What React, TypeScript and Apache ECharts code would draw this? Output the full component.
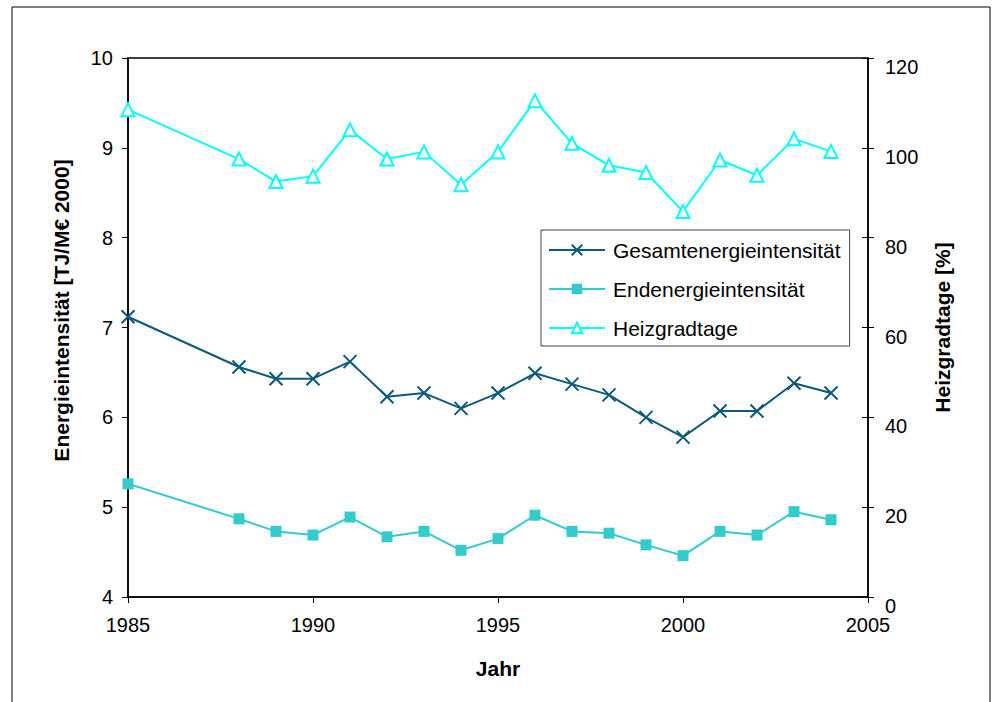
import React, { useEffect, useRef } from "react";
import * as echarts from "echarts";

const years = [1985, 1988, 1989, 1990, 1991, 1992, 1993, 1994, 1995, 1996, 1997, 1998, 1999, 2000, 2001, 2002, 2003, 2004];
const gesamt = [7.12, 6.56, 6.43, 6.43, 6.62, 6.23, 6.27, 6.1, 6.27, 6.49, 6.37, 6.25, 6.0, 5.78, 6.07, 6.07, 6.38, 6.27];
const enden = [5.26, 4.87, 4.73, 4.69, 4.89, 4.67, 4.73, 4.52, 4.65, 4.91, 4.73, 4.71, 4.58, 4.46, 4.73, 4.69, 4.95, 4.86];
const heizgradtage = [108.5, 97.5, 92.5, 93.7, 104, 97.5, 99.1, 91.8, 99.1, 110.5, 101, 96.1, 94.5, 85.8, 97.3, 93.9, 102, 99.2];
const seriesNames = ["Gesamtenergieintensität", "Endenergieintensität", "Heizgradtage"];

const FONT = "Liberation Sans, Arial, sans-serif";

export default function App() {
  const ref = useRef<HTMLDivElement>(null);
  useEffect(() => {
    document.body.style.margin = "0";
    const chart = echarts.init(ref.current!, null, { renderer: "svg" });
    const pair = (vals: number[]) => years.map((y, i) => [y, vals[i]]);
    const titleStyle = { fontFamily: FONT, fontSize: 21, fontWeight: "bold", color: "#000" };
    chart.setOption({
      animation: false,
      backgroundColor: "#ffffff",
      textStyle: { fontFamily: FONT },
      grid: { left: 128, right: 127, top: 58, bottom: 105, show: true, borderColor: "#000", borderWidth: 1.5, backgroundColor: "transparent" },
      graphic: [
        { type: "rect", shape: { x: 12, y: 7, width: 978, height: 720 }, style: { fill: "none", stroke: "#000", lineWidth: 1 }, silent: true },
      ],
      legend: {
        orient: "vertical",
        left: 541,
        top: 230,
        padding: [8, 9, 6, 7],
        itemGap: 15,
        itemWidth: 56,
        itemHeight: 13,
        borderColor: "#444",
        borderWidth: 1,
        textStyle: { fontFamily: FONT, fontSize: 21, lineHeight: 24, color: "#000", padding: [0, 0, 0, 3] },
        data: seriesNames,
      },
      xAxis: {
        type: "value",
        min: 1985,
        max: 2005,
        interval: 5,
        name: "Jahr",
        nameLocation: "middle",
        nameGap: 61,
        nameTextStyle: titleStyle,
        axisLine: { lineStyle: { color: "#000", width: 1.5 } },
        axisTick: { show: true, length: 6, lineStyle: { color: "#000" } },
        axisLabel: { fontFamily: FONT, fontSize: 20, color: "#000", margin: 18, formatter: (v: number) => String(v) },
        splitLine: { show: false },
      },
      yAxis: [
        {
          type: "value",
          min: 4,
          max: 10,
          interval: 1,
          position: "left",
          name: "Energieintensität [TJ/M€ 2000]",
          nameLocation: "middle",
          nameGap: 56,
          nameTextStyle: { ...titleStyle, padding: [0, 0, 0, 34] },
          axisLine: { show: true, lineStyle: { color: "#000", width: 1.5 } },
          axisTick: { show: true, length: 6, lineStyle: { color: "#000" } },
          axisLabel: { fontFamily: FONT, fontSize: 20, color: "#000", margin: 15 },
          splitLine: { show: false },
        },
        {
          type: "value",
          min: 0,
          max: 120,
          interval: 20,
          position: "right",
          name: "Heizgradtage [%]",
          nameLocation: "middle",
          nameGap: 64,
          nameRotate: 90,
          nameTextStyle: titleStyle,
          axisLine: { show: true, lineStyle: { color: "#000", width: 1.5 } },
          axisTick: { show: true, length: 6, lineStyle: { color: "#000" } },
          axisLabel: { fontFamily: FONT, fontSize: 20, color: "#000", margin: 17, verticalAlign: "top", lineHeight: 18 },
          splitLine: { show: false },
        },
        {
          type: "value",
          min: 0,
          max: 120,
          interval: 20,
          position: "right",
          axisLine: { show: false },
          axisTick: { show: true, inside: true, length: 6, lineStyle: { color: "#000" } },
          axisLabel: { show: false },
          splitLine: { show: false },
        },
      ],
      series: [
        {
          name: seriesNames[0],
          type: "line",
          yAxisIndex: 0,
          data: pair(gesamt),
          symbol: "path://M0 0L10 10M10 0L0 10",
          symbolSize: 13,
          lineStyle: { color: "#0b5a7c", width: 2 },
          itemStyle: { color: "#0b5a7c", borderColor: "#0b5a7c", borderWidth: 2 },
          z: 3,
        },
        {
          name: seriesNames[1],
          type: "line",
          yAxisIndex: 0,
          data: pair(enden),
          symbol: "rect",
          symbolSize: 11,
          lineStyle: { color: "#33cccc", width: 2 },
          itemStyle: { color: "#33cccc", borderColor: "#33cccc", borderWidth: 0 },
          z: 3,
        },
        {
          name: seriesNames[2],
          type: "line",
          yAxisIndex: 1,
          data: pair(heizgradtage),
          symbol: "triangle",
          symbolSize: [13, 13],
          lineStyle: { color: "#00ffff", width: 2 },
          itemStyle: { color: "#ffffff", borderColor: "#00ffff", borderWidth: 2 },
          z: 3,
        },
      ],
    });
    return () => chart.dispose();
  }, []);
  return <div ref={ref} style={{ width: 995, height: 702 }} />;
}
